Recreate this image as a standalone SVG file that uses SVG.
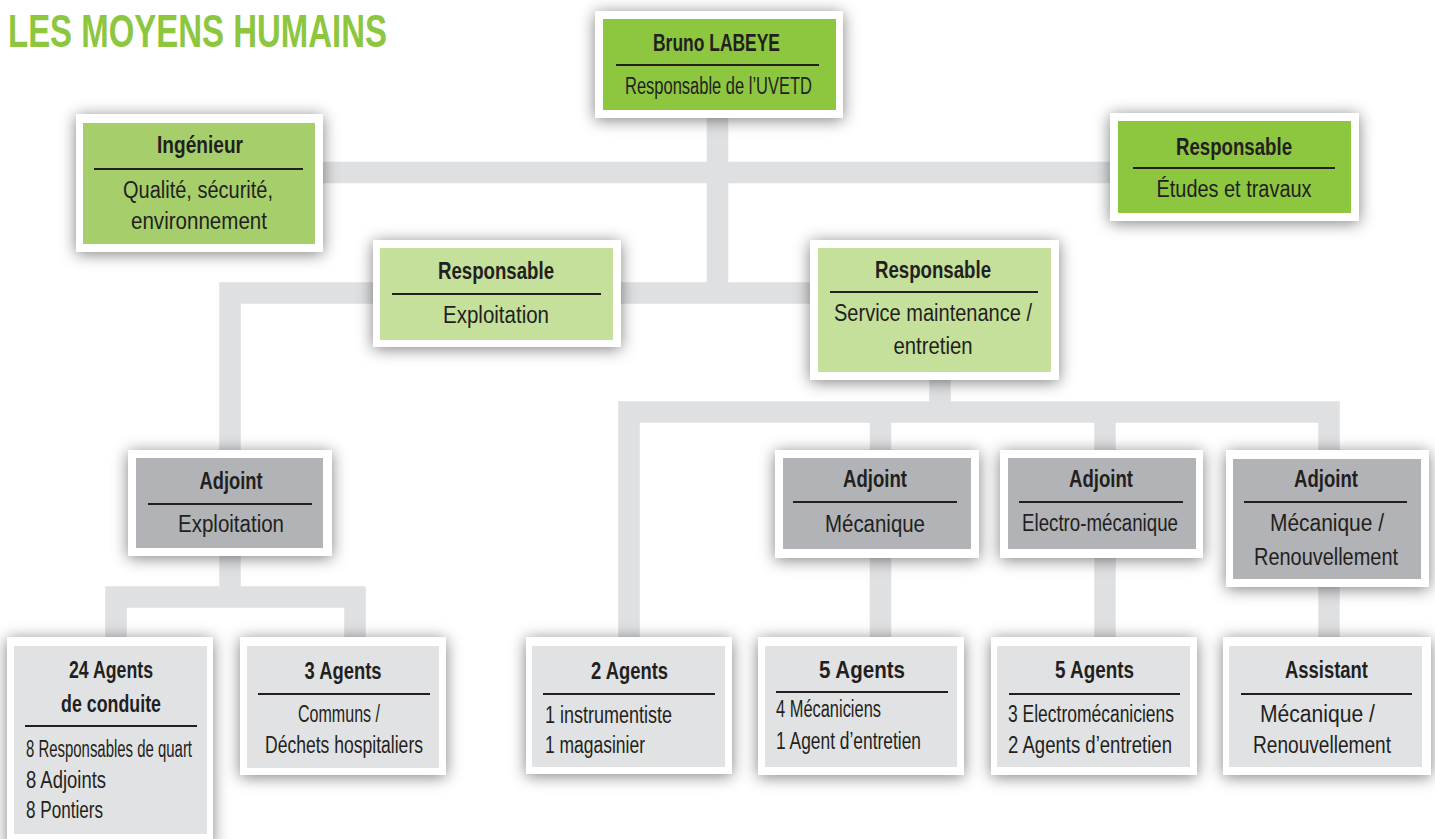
<svg xmlns="http://www.w3.org/2000/svg" width="1435" height="839" viewBox="0 0 1435 839">
<defs>
<filter id="sh" x="-20%" y="-30%" width="140%" height="160%">
<feGaussianBlur in="SourceAlpha" stdDeviation="8"/>
<feOffset dx="0" dy="2" result="b"/>
<feFlood flood-color="#000" flood-opacity="0.5"/>
<feComposite in2="b" operator="in"/>
<feMerge><feMergeNode/><feMergeNode in="SourceGraphic"/></feMerge>
</filter>
</defs>
<style>
.o{fill:#fff;filter:url(#sh)}
.g1{fill:#8dc63f}.g2{fill:#a6cf6b}.g3{fill:#c5e09b}.d{fill:#b1b3b6}.l{fill:#e1e2e4}
.ln{stroke:#231f20;stroke-width:2}
text{font-family:"Liberation Sans Narrow","Liberation Sans",Arial,sans-serif;font-size:23px;fill:#231f20}
.b{font-weight:bold}
.c{text-anchor:middle}
.cn{fill:none;stroke:#dfe0e2;stroke-width:21.5;stroke-linejoin:miter;stroke-linecap:butt}
</style>
<rect width="1435" height="839" fill="#fff"/>
<text x="8" y="47" style="font-size:47px;fill:#8dc63f" class="b" textLength="379" lengthAdjust="spacingAndGlyphs">LES MOYENS HUMAINS</text>
<g id="connectors">
<path class="cn" d="M717.5,118 V293"/>
<path class="cn" d="M323,172.5 H1110"/>
<path class="cn" d="M230,450 V293 H818"/>
<path class="cn" d="M940,380 V412"/>
<path class="cn" d="M629,637 V412 H1329 V450"/>
<path class="cn" d="M880.5,412 V450"/>
<path class="cn" d="M1105,412 V450"/>
<path class="cn" d="M880.5,558 V637"/>
<path class="cn" d="M1105,558 V637"/>
<path class="cn" d="M1329,587 V637"/>
<path class="cn" d="M230,556 V597"/>
<path class="cn" d="M116,637 V597 H355 V637"/>
</g>
<g id="n-labeye">
<rect class="o" x="595" y="11" width="248" height="107"/>
<rect class="g1" x="603" y="19" width="233" height="91"/>
<text class="b c" x="716.5" y="51" textLength="127" lengthAdjust="spacingAndGlyphs">Bruno LABEYE</text>
<line class="ln" x1="616" y1="65" x2="819" y2="65"/>
<text class="c" x="718.5" y="94" textLength="187" lengthAdjust="spacingAndGlyphs">Responsable de l’UVETD</text>
</g>
<g id="n-ingenieur">
<rect class="o" x="76" y="114" width="247" height="138"/>
<rect class="g2" x="83" y="123" width="232" height="121"/>
<text class="b c" x="200" y="153" textLength="86" lengthAdjust="spacingAndGlyphs">Ingénieur</text>
<line class="ln" x1="94" y1="169" x2="303" y2="169"/>
<text class="c" x="198" y="198" textLength="150" lengthAdjust="spacingAndGlyphs">Qualité, sécurité,</text>
<text class="c" x="199" y="229" textLength="136" lengthAdjust="spacingAndGlyphs">environnement</text>
</g>
<g id="n-etudes">
<rect class="o" x="1110" y="113" width="249" height="108"/>
<rect class="g1" x="1118" y="121" width="233" height="92"/>
<text class="b c" x="1234" y="155" textLength="116" lengthAdjust="spacingAndGlyphs">Responsable</text>
<line class="ln" x1="1133" y1="168" x2="1335" y2="168"/>
<text class="c" x="1234" y="197" textLength="155" lengthAdjust="spacingAndGlyphs">Études et travaux</text>
</g>
<g id="n-exploitation">
<rect class="o" x="373" y="240" width="248" height="107"/>
<rect class="g3" x="380" y="248" width="233" height="92"/>
<text class="b c" x="496" y="279" textLength="116" lengthAdjust="spacingAndGlyphs">Responsable</text>
<line class="ln" x1="392" y1="294" x2="601" y2="294"/>
<text class="c" x="496" y="323" textLength="106" lengthAdjust="spacingAndGlyphs">Exploitation</text>
</g>
<g id="n-maintenance">
<rect class="o" x="810" y="240" width="249" height="140"/>
<rect class="g3" x="818" y="248" width="233" height="124"/>
<text class="b c" x="933" y="278" textLength="116" lengthAdjust="spacingAndGlyphs">Responsable</text>
<line class="ln" x1="830" y1="292" x2="1038" y2="292"/>
<text class="c" x="933" y="321" textLength="198" lengthAdjust="spacingAndGlyphs">Service maintenance /</text>
<text class="c" x="933" y="354" textLength="79" lengthAdjust="spacingAndGlyphs">entretien</text>
</g>
<g id="n-adj-exploitation">
<rect class="o" x="128" y="450" width="204" height="106"/>
<rect class="d" x="136" y="458" width="187" height="90"/>
<text class="b c" x="231" y="489" textLength="63" lengthAdjust="spacingAndGlyphs">Adjoint</text>
<line class="ln" x1="148" y1="504" x2="312" y2="504"/>
<text class="c" x="231" y="532" textLength="106" lengthAdjust="spacingAndGlyphs">Exploitation</text>
</g>
<g id="n-adj-mecanique">
<rect class="o" x="775" y="450" width="204" height="108"/>
<rect class="d" x="783" y="458" width="188" height="91"/>
<text class="b c" x="875" y="487" textLength="64" lengthAdjust="spacingAndGlyphs">Adjoint</text>
<line class="ln" x1="793" y1="502" x2="957" y2="502"/>
<text class="c" x="875" y="532" textLength="100" lengthAdjust="spacingAndGlyphs">Mécanique</text>
</g>
<g id="n-adj-electro">
<rect class="o" x="1000" y="450" width="203" height="108"/>
<rect class="d" x="1008" y="458" width="188" height="91"/>
<text class="b c" x="1101" y="487" textLength="64" lengthAdjust="spacingAndGlyphs">Adjoint</text>
<line class="ln" x1="1019" y1="502" x2="1183" y2="502"/>
<text class="c" x="1100" y="531" textLength="156" lengthAdjust="spacingAndGlyphs">Electro-mécanique</text>
</g>
<g id="n-adj-renouvellement">
<rect class="o" x="1226" y="450" width="203" height="137"/>
<rect class="d" x="1233" y="459" width="188" height="120"/>
<text class="b c" x="1326" y="487" textLength="64" lengthAdjust="spacingAndGlyphs">Adjoint</text>
<line class="ln" x1="1244" y1="502" x2="1407" y2="502"/>
<text class="c" x="1327" y="531" textLength="114" lengthAdjust="spacingAndGlyphs">Mécanique /</text>
<text class="c" x="1326" y="565" textLength="144" lengthAdjust="spacingAndGlyphs">Renouvellement</text>
</g>
<g id="n-24-agents">
<rect class="o" x="7" y="637" width="206" height="210"/>
<rect class="l" x="14" y="646" width="193" height="188"/>
<text class="b c" x="111" y="678" textLength="84" lengthAdjust="spacingAndGlyphs">24 Agents</text>
<text class="b c" x="111" y="712" textLength="100" lengthAdjust="spacingAndGlyphs">de conduite</text>
<line class="ln" x1="25" y1="726" x2="197" y2="726"/>
<text x="26" y="757" textLength="166" lengthAdjust="spacingAndGlyphs">8 Responsables de quart</text>
<text x="26" y="788" textLength="80" lengthAdjust="spacingAndGlyphs">8 Adjoints</text>
<text x="26" y="818" textLength="77" lengthAdjust="spacingAndGlyphs">8 Pontiers</text>
</g>
<g id="n-3-agents">
<rect class="o" x="240" y="637" width="206" height="138"/>
<rect class="l" x="247" y="646" width="192" height="122"/>
<text class="b c" x="343" y="679" textLength="77" lengthAdjust="spacingAndGlyphs">3 Agents</text>
<line class="ln" x1="258" y1="694" x2="430" y2="694"/>
<text class="c" x="339" y="722" textLength="82" lengthAdjust="spacingAndGlyphs">Communs /</text>
<text class="c" x="344" y="753" textLength="158" lengthAdjust="spacingAndGlyphs">Déchets hospitaliers</text>
</g>
<g id="n-2-agents">
<rect class="o" x="526" y="637" width="206" height="137"/>
<rect class="l" x="532" y="646" width="193" height="121"/>
<text class="b c" x="629.5" y="679" textLength="77" lengthAdjust="spacingAndGlyphs">2 Agents</text>
<line class="ln" x1="543" y1="694" x2="715" y2="694"/>
<text x="545" y="723" textLength="127" lengthAdjust="spacingAndGlyphs">1 instrumentiste</text>
<text x="545" y="753" textLength="100" lengthAdjust="spacingAndGlyphs">1 magasinier</text>
</g>
<g id="n-5-agents-meca">
<rect class="o" x="758" y="637" width="206" height="138"/>
<rect class="l" x="765" y="646" width="192" height="121"/>
<text class="b c" x="862" y="678" textLength="86" lengthAdjust="spacingAndGlyphs">5 Agents</text>
<line class="ln" x1="776" y1="692" x2="948" y2="692"/>
<text x="776" y="717" textLength="105" lengthAdjust="spacingAndGlyphs">4 Mécaniciens</text>
<text x="776" y="749" textLength="145" lengthAdjust="spacingAndGlyphs">1 Agent d’entretien</text>
</g>
<g id="n-5-agents-electro">
<rect class="o" x="991" y="637" width="206" height="138"/>
<rect class="l" x="997" y="646" width="193" height="121"/>
<text class="b c" x="1094.5" y="678" textLength="79" lengthAdjust="spacingAndGlyphs">5 Agents</text>
<line class="ln" x1="1009" y1="694" x2="1180" y2="694"/>
<text x="1008" y="722" textLength="166" lengthAdjust="spacingAndGlyphs">3 Electromécaniciens</text>
<text x="1008" y="753" textLength="164" lengthAdjust="spacingAndGlyphs">2 Agents d’entretien</text>
</g>
<g id="n-assistant">
<rect class="o" x="1223" y="637" width="208" height="138"/>
<rect class="l" x="1229" y="646" width="193" height="121"/>
<text class="b c" x="1326.5" y="678" textLength="83" lengthAdjust="spacingAndGlyphs">Assistant</text>
<line class="ln" x1="1241" y1="694" x2="1412" y2="694"/>
<text class="c" x="1317.5" y="722" textLength="115" lengthAdjust="spacingAndGlyphs">Mécanique /</text>
<text class="c" x="1322" y="753" textLength="138" lengthAdjust="spacingAndGlyphs">Renouvellement</text>
</g>
</svg>
